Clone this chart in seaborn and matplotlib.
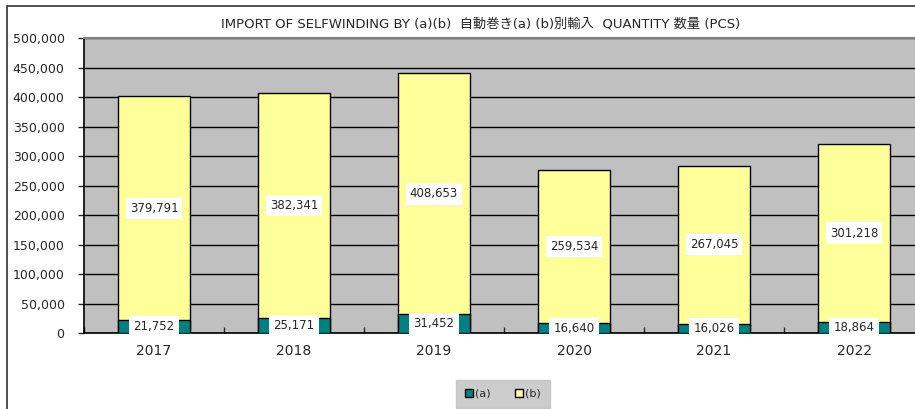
import matplotlib
matplotlib.use("Agg")
import matplotlib.pyplot as plt
import seaborn as sns
import pandas as pd
import numpy as np
from matplotlib.patches import Rectangle, Patch

years = ["2017", "2018", "2019", "2020", "2021", "2022"]
series_a = [21752, 25171, 31452, 16640, 16026, 18864]
series_b = [379791, 382341, 408653, 259534, 267045, 301218]
title = "IMPORT OF SELFWINDING BY (a)(b)  自動巻き(a) (b)別輸入  QUANTITY 数量 (PCS)"

sns.set_theme(style="white")
plt.rcParams['font.family'] = ['DejaVu Sans', 'Noto Sans CJK JP']

df = pd.DataFrame({"year": years, "a": series_a, "b": series_b})
df["total"] = df["a"] + df["b"]

W, H = 915, 409
fig = plt.figure(figsize=(W/100, H/100), dpi=100)
fig.patch.set_facecolor("white")
fig.patches.append(Rectangle((7/W, -0.1), 1.2, 1 - 6/H + 0.1, transform=fig.transFigure,
                             fill=False, edgecolor="#333333", linewidth=1.2))

left, right = 84/W, 924/W
bottom, top = 1 - 333/H, 1 - 38/H
ax = fig.add_axes([left, bottom, right - left, top - bottom])
ax.set_facecolor("#C0C0C0")

yellow = "#FFFF99"
teal = "#008080"
sns.barplot(data=df, x="year", y="total", color=yellow, edgecolor="black", linewidth=1,
            width=0.515, saturation=1, ax=ax, zorder=3)
sns.barplot(data=df, x="year", y="a", color=teal, edgecolor="black", linewidth=1,
            width=0.515, saturation=1, ax=ax, zorder=4)

ax.set_ylim(0, 500000)
ax.set_xlim(-0.5, len(years) - 0.5)
ax.set_yticks(np.arange(0, 500001, 50000))
ax.set_yticklabels([f"{v:,}" for v in range(0, 500001, 50000)], fontsize=9)
ax.yaxis.grid(True, color="black", linewidth=1)
ax.set_axisbelow(True)
ax.set_xlabel("")
ax.set_ylabel("")
ax.tick_params(axis="x", labelsize=10, length=0, pad=8)
ax.tick_params(axis="y", length=4, width=1, direction="out", left=True, pad=10)
ax.set_xticks(np.arange(len(years)) - 0.5, minor=True)
ax.tick_params(axis="x", which="minor", direction="in", length=4, width=1, bottom=True)
for s in ["left", "bottom"]:
    ax.spines[s].set_color("black")
    ax.spines[s].set_linewidth(1.2)
ax.spines["top"].set_color("#808080")
ax.spines["top"].set_linewidth(1.5)
ax.spines["right"].set_visible(False)

box = dict(facecolor="white", edgecolor="none", pad=3)
for i, (a, b) in enumerate(zip(series_a, series_b)):
    ax.text(i, a / 2, f"{a:,}", ha="center", va="center", fontsize=8.5, bbox=box, zorder=6)
    ax.text(i, a + b / 2, f"{b:,}", ha="center", va="center", fontsize=8.5, bbox=box, zorder=6)

fig.text(481/W, 1 - 24/H, title, ha="center", va="center", fontsize=9.5)

handles = [Patch(facecolor=teal, edgecolor="black", label="(a)"),
           Patch(facecolor=yellow, edgecolor="black", label="(b)")]
leg = fig.legend(handles=handles, loc="center", bbox_to_anchor=(503/W, 1 - 394/H), ncol=2,
                 frameon=True, fontsize=8, handlelength=0.7, handleheight=0.7,
                 handletextpad=0.2, columnspacing=2.2, borderpad=0.5)
leg.get_frame().set_facecolor("#C0C0C0")
leg.get_frame().set_edgecolor("#C0C0C0")
leg.get_frame().set_boxstyle("square")

fig.savefig("out.png", dpi=100)
